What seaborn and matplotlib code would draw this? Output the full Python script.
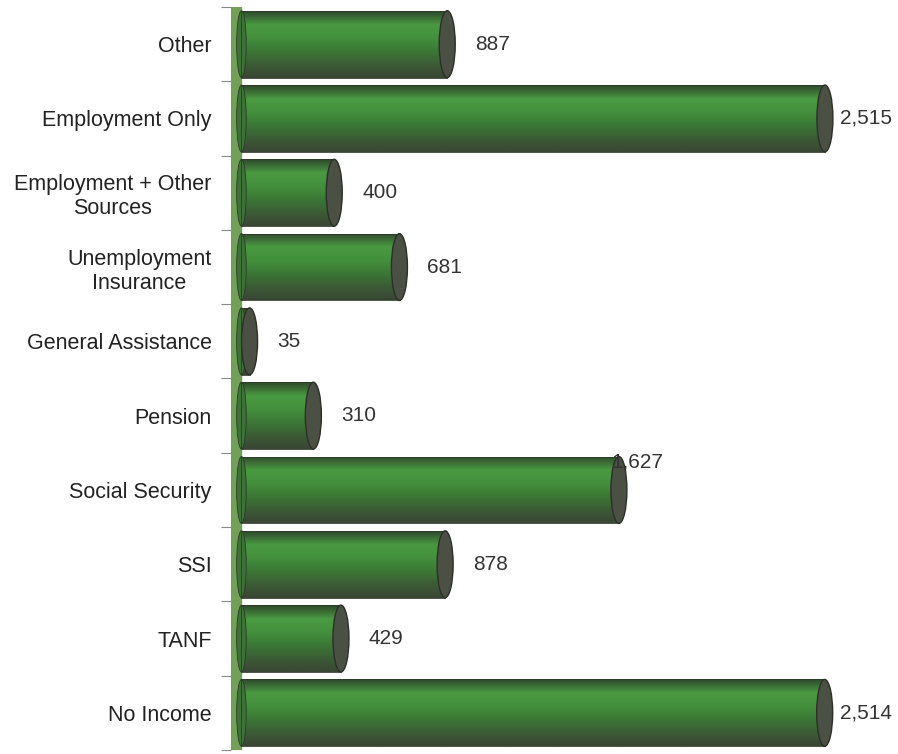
import numpy as np
import pandas as pd
import matplotlib
matplotlib.use("Agg")
import matplotlib.pyplot as plt
import seaborn as sns
from matplotlib.patches import Ellipse, Rectangle
from matplotlib.colors import LinearSegmentedColormap

categories = [
    "Other",
    "Employment Only",
    "Employment + Other\nSources",
    "Unemployment\nInsurance",
    "General Assistance",
    "Pension",
    "Social Security",
    "SSI",
    "TANF",
    "No Income",
]
counts = [887, 2515, 400, 681, 35, 310, 1627, 878, 429, 2514]
value_labels = ["887", "2,515", "400", "681", "35", "310", "1,627", "878", "429", "2,514"]

sns.set_theme(style="white")
plt.rcParams["font.family"] = ["Liberation Sans", "DejaVu Sans"]

df = pd.DataFrame({"source": categories, "count": counts})

fig = plt.figure(figsize=(8.98, 7.54), dpi=100)
ax = fig.add_axes([231 / 898, 4 / 754, 1 - 231 / 898, 743 / 754])

bar_w = 0.9
sns.barplot(data=df, y="source", x="count", orient="h", color="#3d7f36",
            width=bar_w, ax=ax, saturation=1, edgecolor="none")

x_lo, x_hi = -45, 2830
ax.set_xlim(x_lo, x_hi)

# green back wall
ax.axvspan(x_lo, 0, color="#72a058", zorder=0.5)

# cylinder shading
grad_cmap = LinearSegmentedColormap.from_list(
    "cyl", ["#2f4a2c", "#4a9a42", "#43903c", "#3b7835", "#3c5c36", "#3a4634"])
grad = np.linspace(0, 1, 64).reshape(-1, 1)
px_per_unit = (898 - 231) / (x_hi - x_lo)
cap_w = 16 / px_per_unit
for patch, v in zip(ax.patches, counts):
    x0, y0 = patch.get_x(), patch.get_y()
    w, h = patch.get_width(), patch.get_height()
    img = ax.imshow(grad, extent=[x0, x0 + w, y0 + h, y0], aspect="auto",
                    cmap=grad_cmap, origin="upper", zorder=2, interpolation="bilinear")
    img.set_clip_path(patch)
    # rounded left end against the wall
    ax.add_patch(Ellipse((x0, y0 + h / 2), cap_w * 0.6, h, facecolor="#3d7236",
                         edgecolor="#2e3a2a", lw=0.6, zorder=2.5))
    ax.add_patch(Rectangle((x0, y0), w, h, fill=False, edgecolor="#2e3a2a",
                           lw=0.6, zorder=2.6))
    # end cap
    ax.add_patch(Ellipse((x0 + w, y0 + h / 2), cap_w, h, facecolor="#4b5044",
                         edgecolor="#2b3028", lw=1.0, zorder=3))

ax.set_ylim(len(categories) - 0.5, -0.5)

# value labels, pulled in closer for the longest bars so they stay on the canvas
for i, (v, lab) in enumerate(zip(counts, value_labels)):
    if lab == "1,627":
        dx, dy = -8 / px_per_unit, -0.38
    else:
        off_px = 15 if v > 2000 else 28
        dx, dy = off_px / px_per_unit, 0.0
    ax.text(v + dx, i + dy, lab, va="center", ha="left", fontsize=15,
            color="#333333", zorder=5)

ax.set_xlabel("")
ax.set_ylabel("")
ax.set_xticks([])
ax.set_yticks(range(len(categories)))
ax.set_yticklabels(categories, fontsize=15.5, color="#222222", ha="right",
                   multialignment="center", linespacing=1.2)
ax.tick_params(axis="y", which="major", length=0, pad=14)
ax.set_yticks(np.arange(-0.5, len(categories)), minor=True)
ax.tick_params(axis="y", which="minor", length=7, width=0.8, color="#888888", left=True)
for s in ax.spines.values():
    s.set_visible(False)

fig.savefig("out.png", dpi=100, facecolor="white")
